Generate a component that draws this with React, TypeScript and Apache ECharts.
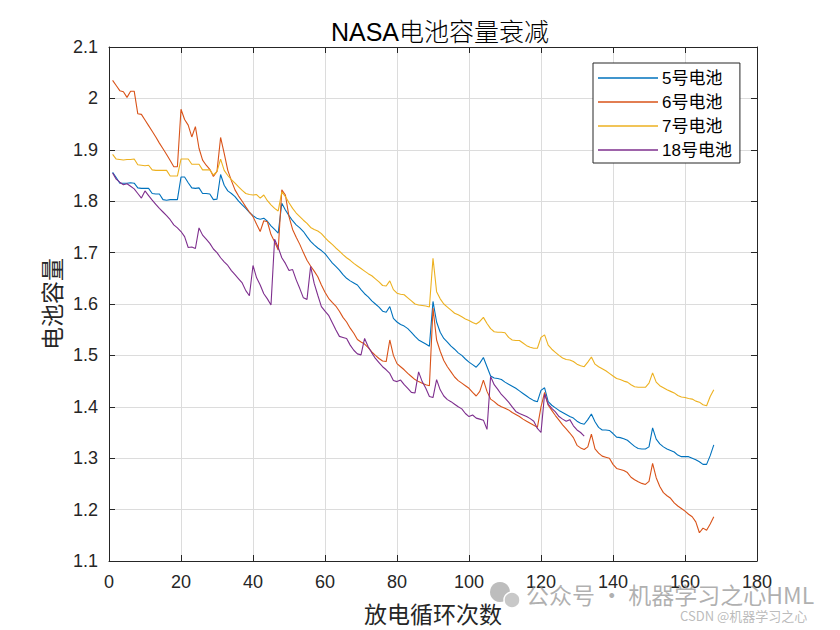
import React, { useEffect, useRef } from "react";
import * as echarts from "echarts";

const titleText = "NASA电池容量衰减";
const xAxisName = "放电循环次数";
const yAxisName = "电池容量";
const seriesNames = ["5号电池", "6号电池", "7号电池", "18号电池"];
const seriesColors = ["#0072BD", "#D95319", "#EDB120", "#7E2F8E"];
const xRange = { min: 0, max: 180, step: 20 };
const yRange = { min: 1.1, max: 2.1, step: 0.1 };

const battery5 = [
  1.856, 1.846, 1.835, 1.835, 1.835, 1.836, 1.835, 1.826, 1.825, 1.825,
  1.825, 1.815, 1.814, 1.814, 1.803, 1.802, 1.803, 1.803, 1.803, 1.847,
  1.847, 1.836, 1.826, 1.825, 1.826, 1.815, 1.815, 1.814, 1.803, 1.804,
  1.852, 1.831, 1.820, 1.815, 1.809, 1.800, 1.793, 1.786, 1.778, 1.772,
  1.767, 1.765, 1.767, 1.761, 1.752, 1.745, 1.738, 1.796, 1.783, 1.772,
  1.762, 1.754, 1.748, 1.741, 1.731, 1.722, 1.715, 1.709, 1.704, 1.698,
  1.689, 1.680, 1.673, 1.666, 1.657, 1.650, 1.645, 1.641, 1.637, 1.628,
  1.620, 1.614, 1.606, 1.600, 1.594, 1.586, 1.584, 1.595, 1.572, 1.565,
  1.560, 1.557, 1.552, 1.545, 1.537, 1.530, 1.526, 1.522, 1.518, 1.605,
  1.565, 1.545, 1.533, 1.526, 1.518, 1.512, 1.505, 1.500, 1.493, 1.487,
  1.482, 1.477, 1.485, 1.496, 1.478, 1.460, 1.456, 1.455, 1.453, 1.448,
  1.444, 1.440, 1.436, 1.431, 1.426, 1.421, 1.416, 1.412, 1.410, 1.432,
  1.437, 1.410, 1.403, 1.398, 1.393, 1.389, 1.385, 1.381, 1.378, 1.372,
  1.368, 1.366, 1.375, 1.386, 1.371, 1.360, 1.355, 1.355, 1.354, 1.348,
  1.341, 1.340, 1.338, 1.335, 1.329, 1.323, 1.319, 1.318, 1.318, 1.322,
  1.359, 1.337, 1.328, 1.322, 1.318, 1.315, 1.312, 1.306, 1.303, 1.303,
  1.303, 1.300, 1.297, 1.293, 1.288, 1.288, 1.305, 1.326,
];

const battery6 = [
  2.035, 2.025, 2.015, 2.013, 2.002, 2.014, 2.014, 1.970, 1.969, 1.958,
  1.947, 1.936, 1.925, 1.913, 1.902, 1.891, 1.879, 1.867, 1.867, 1.979,
  1.959, 1.948, 1.925, 1.945, 1.903, 1.880, 1.870, 1.862, 1.848, 1.858,
  1.924, 1.893, 1.860, 1.840, 1.822, 1.810, 1.800, 1.789, 1.779, 1.770,
  1.755, 1.741, 1.762, 1.760, 1.735, 1.721, 1.705, 1.822, 1.812, 1.770,
  1.745, 1.730, 1.716, 1.700, 1.685, 1.674, 1.664, 1.653, 1.637, 1.623,
  1.611, 1.603, 1.596, 1.586, 1.574, 1.565, 1.553, 1.543, 1.531, 1.526,
  1.522, 1.515, 1.507, 1.500, 1.494, 1.489, 1.488, 1.530, 1.500, 1.484,
  1.478, 1.472, 1.465, 1.459, 1.453, 1.449, 1.446, 1.443, 1.441, 1.592,
  1.530, 1.508, 1.490, 1.478, 1.468, 1.458, 1.451, 1.446, 1.441, 1.436,
  1.428, 1.421, 1.430, 1.452, 1.430, 1.415, 1.410, 1.404, 1.400, 1.397,
  1.394, 1.389, 1.385, 1.381, 1.376, 1.372, 1.368, 1.364, 1.360, 1.400,
  1.428, 1.403, 1.393, 1.383, 1.374, 1.365, 1.357, 1.349, 1.340, 1.325,
  1.320, 1.317, 1.322, 1.347, 1.318, 1.310, 1.304, 1.302, 1.300, 1.288,
  1.280, 1.278, 1.276, 1.272, 1.263, 1.258, 1.254, 1.251, 1.249, 1.255,
  1.290, 1.262, 1.245, 1.233, 1.227, 1.222, 1.213, 1.207, 1.202, 1.197,
  1.191, 1.186, 1.176, 1.155, 1.164, 1.160, 1.172, 1.186,
];

const battery7 = [
  1.891, 1.882, 1.881, 1.880, 1.881, 1.881, 1.882, 1.871, 1.870, 1.869,
  1.870, 1.861, 1.860, 1.860, 1.860, 1.860, 1.849, 1.849, 1.849, 1.882,
  1.882, 1.882, 1.872, 1.872, 1.872, 1.861, 1.861, 1.861, 1.851, 1.858,
  1.882, 1.860, 1.850, 1.842, 1.835, 1.828, 1.821, 1.815, 1.813, 1.812,
  1.813, 1.806, 1.812, 1.801, 1.793, 1.786, 1.781, 1.818, 1.809, 1.797,
  1.786, 1.777, 1.770, 1.763, 1.757, 1.749, 1.745, 1.742, 1.737, 1.729,
  1.722, 1.716, 1.709, 1.703, 1.696, 1.690, 1.685, 1.679, 1.674, 1.669,
  1.664, 1.659, 1.655, 1.649, 1.643, 1.636, 1.635, 1.645, 1.628, 1.621,
  1.619, 1.618, 1.612, 1.606, 1.600, 1.598, 1.597, 1.596, 1.594, 1.689,
  1.624, 1.610, 1.600, 1.594, 1.588, 1.582, 1.579, 1.575, 1.571, 1.568,
  1.564, 1.561, 1.566, 1.574, 1.562, 1.552, 1.546, 1.545, 1.545, 1.544,
  1.535, 1.530, 1.529, 1.529, 1.524, 1.519, 1.516, 1.514, 1.514, 1.535,
  1.540, 1.520, 1.512, 1.506, 1.500, 1.495, 1.492, 1.491, 1.488, 1.483,
  1.480, 1.478, 1.487, 1.497, 1.483, 1.478, 1.474, 1.470, 1.465, 1.460,
  1.455, 1.453, 1.450, 1.448, 1.443, 1.439, 1.438, 1.438, 1.438, 1.446,
  1.466, 1.448, 1.441, 1.437, 1.433, 1.430, 1.427, 1.422, 1.419, 1.418,
  1.416, 1.415, 1.411, 1.409, 1.404, 1.402, 1.420, 1.433,
];

const battery18 = [
  1.855, 1.843, 1.837, 1.832, 1.834, 1.829, 1.824, 1.815, 1.806, 1.820,
  1.811, 1.802, 1.794, 1.786, 1.779, 1.772, 1.764, 1.754, 1.748, 1.741,
  1.731, 1.710, 1.711, 1.708, 1.748, 1.734, 1.726, 1.718, 1.707, 1.700,
  1.690, 1.682, 1.675, 1.665, 1.657, 1.649, 1.641, 1.626, 1.616, 1.675,
  1.651, 1.637, 1.620, 1.610, 1.598, 1.726, 1.710, 1.690, 1.679, 1.665,
  1.667, 1.647, 1.630, 1.612, 1.609, 1.673, 1.640, 1.617, 1.595, 1.586,
  1.578, 1.564, 1.550, 1.537, 1.535, 1.533, 1.520, 1.510, 1.503, 1.501,
  1.533, 1.517, 1.505, 1.494, 1.486, 1.478, 1.472, 1.465, 1.451, 1.449,
  1.452, 1.443, 1.436, 1.428, 1.427, 1.468, 1.449, 1.436, 1.420, 1.418,
  1.453, 1.433, 1.421, 1.414, 1.410, 1.405, 1.400, 1.396, 1.387, 1.381,
  1.384, 1.378, 1.376, 1.374, 1.356, 1.459, 1.443, 1.434, 1.424, 1.417,
  1.409, 1.400, 1.391, 1.387, 1.384, 1.381, 1.377, 1.372, 1.358, 1.350,
  1.425, 1.405, 1.397, 1.390, 1.381, 1.376, 1.372, 1.375, 1.363, 1.355,
  1.350, 1.343,
];

const allSeries = [battery5, battery6, battery7, battery18];

const FONT = '"Liberation Sans", Arial, "Noto Sans CJK SC", sans-serif';
const CJK = '"Noto Sans CJK SC", sans-serif';
const AXIS_COLOR = "#262626";

export default function App() {
  const ref = useRef<HTMLDivElement>(null);

  useEffect(() => {
    if (!ref.current) return;
    const chart = echarts.init(ref.current, undefined, { renderer: "svg" });

    const tickFmt = (v: number) => String(Math.round(v * 10) / 10);

    const baseAxis = {
      type: "value" as const,
      axisLine: { show: true, onZero: false, lineStyle: { color: AXIS_COLOR, width: 1 } },
      axisTick: { show: true, inside: true, length: 6, lineStyle: { color: AXIS_COLOR, width: 1 } },
    };

    chart.setOption({
      animation: false,
      backgroundColor: "#ffffff",
      title: {
        text: titleText,
        left: 435,
        top: 14,
        textAlign: "center",
        textStyle: { fontFamily: FONT, fontSize: 25, fontWeight: 300, color: "#000000" },
      },
      grid: { left: 109, top: 47, width: 648, height: 514, containLabel: false },
      legend: {
        orient: "vertical",
        left: 593,
        top: 63,
        padding: [6, 8, 4, 5],
        itemGap: 6,
        itemWidth: 60,
        itemHeight: 1.4,
        icon: "rect",
        borderColor: AXIS_COLOR,
        borderWidth: 1,
        backgroundColor: "#ffffff",
        textStyle: { fontFamily: FONT, fontSize: 17, color: "#000000", lineHeight: 18, padding: [0, 0, 0, -1] },
        data: seriesNames,
      },
      xAxis: [
        {
          ...baseAxis,
          position: "bottom",
          min: xRange.min,
          max: xRange.max,
          interval: xRange.step,
          axisLabel: { fontFamily: FONT, fontSize: 18, color: AXIS_COLOR, margin: 12 },
          splitLine: { show: true, lineStyle: { color: "#dcdcdc", width: 1 } },
          name: xAxisName,
          nameLocation: "middle",
          nameGap: 40,
          nameTextStyle: { fontFamily: CJK, fontSize: 23, color: AXIS_COLOR },
        },
        {
          ...baseAxis,
          position: "top",
          min: xRange.min,
          max: xRange.max,
          interval: xRange.step,
          axisLabel: { show: false },
          splitLine: { show: false },
        },
      ],
      yAxis: [
        {
          ...baseAxis,
          position: "left",
          min: yRange.min,
          max: yRange.max,
          interval: yRange.step,
          axisLabel: { fontFamily: FONT, fontSize: 18, color: AXIS_COLOR, margin: 11, formatter: tickFmt },
          splitLine: { show: true, lineStyle: { color: "#dcdcdc", width: 1 } },
          name: yAxisName,
          nameLocation: "middle",
          nameGap: 47,
          nameTextStyle: { fontFamily: CJK, fontSize: 23, color: AXIS_COLOR },
        },
        {
          ...baseAxis,
          position: "right",
          min: yRange.min,
          max: yRange.max,
          interval: yRange.step,
          axisLabel: { show: false },
          splitLine: { show: false },
        },
      ],
      series: allSeries.map((vals, i) => ({
        name: seriesNames[i],
        type: "line",
        xAxisIndex: 0,
        yAxisIndex: 0,
        data: vals.map((v, k) => [k + 1, v]),
        showSymbol: false,
        symbol: "none",
        lineStyle: { color: seriesColors[i], width: 1.1 },
        itemStyle: { color: seriesColors[i] },
        emphasis: { disabled: true },
      })),
      graphic: [
        { type: "circle", shape: { cx: 500, cy: 592, r: 10 }, style: { fill: "#bdbdbd" }, z: 10 },
        { type: "circle", shape: { cx: 512, cy: 600, r: 8 }, style: { fill: "#c8c8c8", stroke: "#ffffff", lineWidth: 1.5 }, z: 11 },
        {
          type: "text",
          x: 526,
          y: 594,
          style: {
            text: "公众号 · 机器学习之心HML",
            font: '23px "Noto Sans CJK SC", sans-serif',
            fill: "rgba(150,150,150,0.75)",
            verticalAlign: "middle",
            align: "left",
          },
          z: 10,
        },
        {
          type: "text",
          x: 680,
          y: 615,
          style: {
            text: "CSDN @机器学习之心",
            font: '13px "Noto Sans CJK SC", sans-serif',
            fill: "rgba(170,170,170,0.8)",
            verticalAlign: "middle",
            align: "left",
          },
          z: 10,
        },
      ],
    });

    return () => chart.dispose();
  }, []);

  return (
    <div
      ref={ref}
      style={{ position: "fixed", left: 0, top: 0, width: 840, height: 630, background: "#ffffff" }}
    />
  );
}
